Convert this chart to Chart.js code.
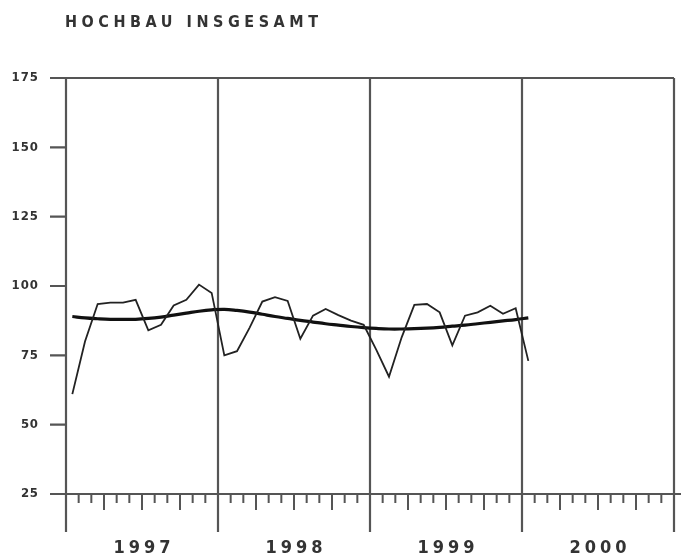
<!DOCTYPE html>
<html>
<head>
<meta charset="utf-8">
<script src="https://cdn.jsdelivr.net/npm/chart.js@4/dist/chart.umd.min.js"></script>
<style>
html, body { margin: 0; padding: 0; background: #fff; }
</style>
</head>
<body>
<canvas id="myChart" width="681" height="555"></canvas>
<script>
const title = 'HOCHBAU INSGESAMT';
const years = ['1997', '1998', '1999', '2000'];
const yTicks = [25, 50, 75, 100, 125, 150, 175];

// monthly index values Jan 1997 .. Jan 2000
const monthly = [61, 80, 93.5, 94, 94, 95, 84, 86, 93, 95, 100.5, 97.5,
                 75, 76.5, 85, 94.4, 96, 94.6, 81, 89.3, 91.7, 89.5, 87.5, 86,
                 77, 67.3, 81.5, 93.2, 93.5, 90.5, 78.6, 89.3, 90.5, 92.9, 90, 92,
                 73];
// smoothed trend
const trend = [89, 88.5, 88.2, 88, 88, 88, 88.3, 88.8, 89.5, 90.2, 90.9, 91.4,
               91.6, 91.2, 90.6, 89.8, 89, 88.3, 87.6, 87, 86.4, 85.9, 85.4, 85,
               84.7, 84.5, 84.5, 84.6, 84.8, 85.1, 85.5, 85.9, 86.4, 86.9, 87.4, 87.9,
               88.5];

const FONT = "'Liberation Sans Narrow', 'DejaVu Sans Condensed', sans-serif";

// draws text stretched with letter spacing to a given total width
let spaced = function(ctx, txt, x, y, font, width, align) {
    ctx.font = font;
    ctx.letterSpacing = '0px';
    let w0 = ctx.measureText(txt).width;
    let sp = (width - w0) / (txt.length - 1);
    let sx = align === 'center' ? x - width / 2 : (align === 'right' ? x - width : x);
    ctx.letterSpacing = sp + 'px';
    ctx.textAlign = 'left';
    ctx.fillText(txt, sx, y);
    ctx.letterSpacing = '0px';
};

let frame = {
    id: 'frame',
    beforeDatasetsDraw(chart) {
        const ctx = chart.ctx;
        const a = chart.chartArea;
        const xs = chart.scales.x, ys = chart.scales.y;
        ctx.save();
        ctx.strokeStyle = '#555';
        ctx.lineWidth = 2.2;
        ctx.beginPath();
        // top and bottom lines
        ctx.moveTo(50, a.top); ctx.lineTo(a.right, a.top);
        ctx.moveTo(50, a.bottom); ctx.lineTo(681, a.bottom);
        // left, right and year dividers
        for (let m = 0; m <= 48; m += 12) {
            let x = xs.getPixelForValue(m);
            ctx.moveTo(x, a.top); ctx.lineTo(x, 532);
        }
        // y ticks
        yTicks.forEach(v => {
            let y = ys.getPixelForValue(v);
            ctx.moveTo(50, y); ctx.lineTo(a.left, y);
        });
        ctx.stroke();

        // month ticks
        ctx.strokeStyle = '#555';
        ctx.lineWidth = 2;
        ctx.beginPath();
        for (let m = 1; m < 48; m++) {
            if (m % 12 === 0) continue;
            let x = xs.getPixelForValue(m);
            ctx.moveTo(x, a.bottom); ctx.lineTo(x, a.bottom + (m % 3 === 0 ? 16 : 9));
        }
        ctx.stroke();
        ctx.restore();
    },
    afterDraw(chart) {
        const ctx = chart.ctx;
        const xs = chart.scales.x, ys = chart.scales.y;
        ctx.save();
        ctx.fillStyle = '#333';
        ctx.textBaseline = 'alphabetic';
        spaced(ctx, title, 65, 27, 'bold 16px ' + FONT, 253, 'left');
        ctx.textBaseline = 'middle';
        yTicks.forEach(v => {
            let s = String(v);
            spaced(ctx, s, 38, ys.getPixelForValue(v), 'bold 13px ' + FONT, s.length * 9.5 - 2, 'right');
        });
        ctx.textBaseline = 'alphabetic';
        years.forEach((yr, i) => {
            spaced(ctx, yr, xs.getPixelForValue(i * 12 + 6), 553, 'bold 18px ' + FONT, 57, 'center');
        });
        ctx.restore();
    }
};

var ctx = document.getElementById('myChart').getContext('2d');
var chart = new Chart(ctx, {
    type: 'line',
    data: {
        datasets: [{
            label: 'Hochbau insgesamt',
            data: monthly.map((v, i) => ({ x: i + 0.5, y: v })),
            borderColor: '#222',
            borderWidth: 1.8,
            pointRadius: 0,
            tension: 0
        }, {
            label: 'Trend',
            data: trend.map((v, i) => ({ x: i + 0.5, y: v })),
            borderColor: '#111',
            borderWidth: 3.2,
            pointRadius: 0,
            tension: 0.4
        }]
    },
    options: {
        responsive: false,
        animation: false,
        layout: { padding: { top: 78, right: 7, bottom: 61, left: 66 } },
        plugins: { legend: { display: false }, tooltip: { enabled: false } },
        scales: {
            x: { type: 'linear', min: 0, max: 48, display: false },
            y: { min: 25, max: 175, display: false }
        }
    },
    plugins: [frame]
});
</script>
</body>
</html>
